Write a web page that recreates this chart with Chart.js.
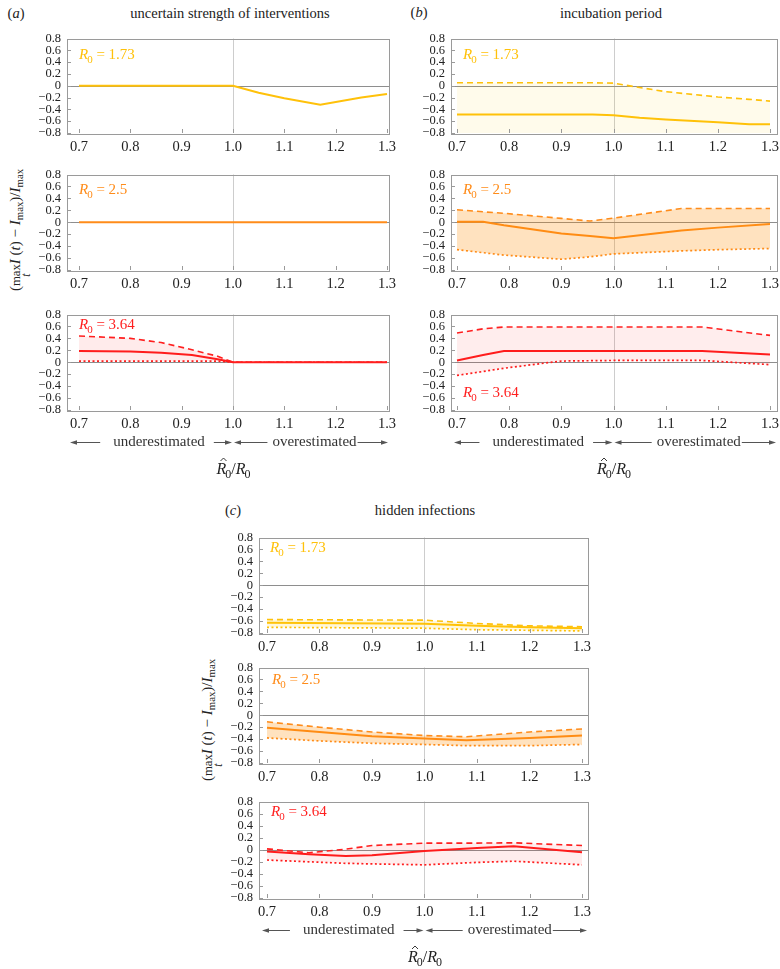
<!DOCTYPE html>
<html>
<head>
<meta charset="utf-8">
<script src="https://cdn.jsdelivr.net/npm/chart.js@4.4.0/dist/chart.umd.min.js"></script>
<style>
  body { margin: 0; background: #fff; width: 780px; height: 969px; position: relative; overflow: hidden;
         font-family: "Liberation Serif", "Times New Roman", "DejaVu Serif", serif; color: #222; }
  canvas { position: absolute; }
  .t { position: absolute; font-size: 14.5px; white-space: nowrap; transform: translate(-50%, -50%); }
  .ylab { position: absolute; font-size: 15px; white-space: nowrap; transform: translate(-50%, -50%) rotate(-90deg); }
  .ylab sub { font-size: 0.72em; vertical-align: -0.3em; }
  .mx { display: inline-block; position: relative; font-size: 0.85em; }
  .mx i { position: absolute; left: 50%; top: 0.95em; transform: translateX(-50%); font-size: 0.9em; }
</style>
</head>
<body>

<div class="t" style="left:16px;top:13px">(<i>a</i>)</div>
<div class="t" style="left:230px;top:13px">uncertain strength of interventions</div>
<div class="t" style="left:419px;top:12px">(<i>b</i>)</div>
<div class="t" style="left:611px;top:13px">incubation period</div>
<div class="t" style="left:233px;top:510px">(<i>c</i>)</div>
<div class="t" style="left:425px;top:510px">hidden infections</div>

<div class="ylab" style="left:16px;top:230px">(<span class="mx">max<i>t</i></span><i>I</i> (<i>t</i>) − <i>I</i><sub>max</sub>)/<i>I</i><sub>max</sub></div>
<div class="ylab" style="left:208px;top:720px">(<span class="mx">max<i>t</i></span><i>I</i> (<i>t</i>) − <i>I</i><sub>max</sub>)/<i>I</i><sub>max</sub></div>

<script>
// ===== DATA =====
// axis ticks
const ratioTicks = [0.7, 0.8, 0.9, 1.0, 1.1, 1.2, 1.3];
const effectTicks = [-0.8, -0.6, -0.4, -0.2, 0, 0.2, 0.4, 0.6, 0.8];

// (a) uncertain strength of interventions
const xA1 = [0.7, 1.0, 1.05, 1.1, 1.17, 1.25, 1.3];
const a1Mid = [0, 0, -0.12, -0.21, -0.32, -0.2, -0.14];

const xA2 = [0.7, 1.0, 1.3];
const a2Mid = [0, 0, 0];

const xA3 = [0.7, 0.8, 0.86, 0.92, 0.97, 1.0, 1.3];
const a3Upper = [0.44, 0.40, 0.33, 0.21, 0.10, 0, 0];
const a3Mid = [0.19, 0.18, 0.16, 0.12, 0.05, 0, 0];
const a3Lower = [0.02, 0.02, 0.02, 0.02, 0.02, 0, 0];

// (b) incubation period
const xB1 = [0.7, 0.96, 1.0, 1.05, 1.1, 1.2, 1.26, 1.3];
const b1Upper = [0.05, 0.05, 0.045, -0.03, -0.1, -0.19, -0.23, -0.26];
const b1Mid = [-0.485, -0.485, -0.5, -0.54, -0.57, -0.62, -0.65, -0.65];

const xB2 = [0.7, 0.75, 0.79, 0.9, 0.955, 1.0, 1.13, 1.2, 1.3];
const b2Upper = [0.21, 0.175, 0.15, 0.065, 0.02, 0.07, 0.23, 0.23, 0.23];
const b2Mid = [0.01, 0.01, -0.05, -0.19, -0.23, -0.27, -0.14, -0.09, -0.03];
const b2Lower = [-0.46, -0.51, -0.55, -0.62, -0.58, -0.53, -0.48, -0.46, -0.44];

const xB3 = [0.7, 0.75, 0.79, 0.9, 1.0, 1.17, 1.3];
const b3Upper = [0.49, 0.56, 0.59, 0.59, 0.59, 0.59, 0.45];
const b3Mid = [0.03, 0.12, 0.19, 0.19, 0.19, 0.19, 0.13];
const b3Lower = [-0.22, -0.155, -0.10, 0.02, 0.03, 0.03, -0.04];

// (c) hidden infections
const xC1 = [0.7, 1.0, 1.1, 1.2, 1.3];
const c1Upper = [-0.575, -0.585, -0.64, -0.68, -0.695];
const c1Mid = [-0.63, -0.645, -0.68, -0.705, -0.72];
const c1Lower = [-0.705, -0.72, -0.745, -0.755, -0.765];

const xC2 = [0.7, 0.8, 0.9, 1.0, 1.08, 1.2, 1.3];
const c2Upper = [-0.11, -0.2, -0.28, -0.34, -0.36, -0.28, -0.23];
const c2Mid = [-0.21, -0.28, -0.35, -0.39, -0.42, -0.38, -0.34];
const c2Lower = [-0.38, -0.43, -0.47, -0.49, -0.51, -0.51, -0.49];

const xC3 = [0.7, 0.78, 0.85, 0.9, 1.0, 1.1, 1.17, 1.3];
const c3Upper = [0.015, -0.05, 0.01, 0.07, 0.11, 0.11, 0.115, 0.07];
const c3Mid = [-0.03, -0.075, -0.105, -0.09, -0.02, 0.03, 0.06, -0.04];
const c3Lower = [-0.17, -0.2, -0.225, -0.235, -0.25, -0.21, -0.19, -0.25];

// ===== STYLE =====
const YELLOW = "#ffc10a", ORANGE = "#ff8c1a", RED = "#ff1f1f";
const SERIF = '"Liberation Serif", "Times New Roman", serif';
const YW = 50, PT = 8, PR = 14, XH = 26;

// ===== DECORATION PLUGIN (frame, inner ticks, reference lines, labels) =====
function arrow(ctx, x0, y0, x1) {
  const dir = x1 > x0 ? 1 : -1;
  ctx.beginPath(); ctx.moveTo(x0, y0 + 0.5); ctx.lineTo(x1 - dir * 5, y0 + 0.5); ctx.stroke();
  ctx.beginPath();
  ctx.moveTo(x1, y0 + 0.5);
  ctx.lineTo(x1 - dir * 7, y0 - 1.8);
  ctx.lineTo(x1 - dir * 7, y0 + 2.8);
  ctx.closePath(); ctx.fill();
}

function drawR(ctx, x, yc, size) {
  ctx.font = "italic " + size + "px " + SERIF;
  ctx.fillText("R", x, yc);
  let w = ctx.measureText("R").width;
  ctx.font = Math.round(size * 0.72) + "px " + SERIF;
  ctx.fillText("0", x + w - 1, yc + size * 0.33);
  return w - 1 + ctx.measureText("0").width;
}

const decor = {
  id: "decor",
  beforeDatasetsDraw(chart) {
    const { ctx, chartArea: a, scales: { x, y } } = chart;
    ctx.save();
    ctx.lineWidth = 1;
    ctx.strokeStyle = "#cdcdcd";
    const x1 = Math.round(x.getPixelForValue(1)) + 0.5;
    ctx.beginPath(); ctx.moveTo(x1, a.top); ctx.lineTo(x1, a.bottom); ctx.stroke();
    ctx.strokeStyle = "#8e8e8e";
    const y0 = Math.round(y.getPixelForValue(0)) + 0.5;
    ctx.beginPath(); ctx.moveTo(a.left, y0); ctx.lineTo(a.right, y0); ctx.stroke();
    ctx.restore();
  },
  afterDatasetsDraw(chart, args, opts) {
    const { ctx, chartArea: a, scales: { x, y } } = chart;
    ctx.save();
    // frame
    ctx.strokeStyle = "#9a9a9a";
    ctx.lineWidth = 1;
    ctx.strokeRect(Math.round(a.left) + 0.5, Math.round(a.top) + 0.5,
                   Math.round(a.right - a.left), Math.round(a.bottom - a.top));
    // inner ticks
    ctx.beginPath();
    y.ticks.forEach(t => {
      const py = Math.round(y.getPixelForValue(t.value)) + 0.5;
      ctx.moveTo(a.left, py); ctx.lineTo(a.left + 4, py);
    });
    x.ticks.forEach(t => {
      const px = Math.round(x.getPixelForValue(t.value)) + 0.5;
      ctx.moveTo(px, a.bottom); ctx.lineTo(px, a.bottom - 4);
    });
    ctx.stroke();

    // R0 label
    ctx.fillStyle = opts.color;
    ctx.textBaseline = "middle";
    ctx.textAlign = "left";
    const lx = a.left + opts.dx;
    const ly = opts.bottom ? a.bottom - 17 : a.top + opts.dy;
    const w = drawR(ctx, lx, ly, 15);
    ctx.font = "15px " + SERIF;
    ctx.fillText(" = " + opts.r0, lx + w, ly);

    // under/over-estimated annotation + axis title
    if (opts.annot) {
      const p1 = x.getPixelForValue(1);
      const L = a.left + 3, R = a.right - 1;
      const yA = a.bottom + 32;
      ctx.fillStyle = "#333";
      ctx.strokeStyle = "#555";
      ctx.font = "15px " + SERIF;
      ctx.textAlign = "center";
      const c1 = (x.getPixelForValue(0.7) + p1) / 2 + 3;
      const w1 = ctx.measureText("underestimated").width;
      ctx.fillText("underestimated", c1, yA);
      const c2 = (p1 + R) / 2 + 4;
      const w2 = ctx.measureText("overestimated").width;
      ctx.fillText("overestimated", c2, yA);
      ctx.fillStyle = "#555";
      arrow(ctx, c1 - w1 / 2 - 13, yA, L);
      arrow(ctx, c1 + w1 / 2 + 9, yA, p1 - 1);
      arrow(ctx, c2 - w2 / 2 - 5, yA, p1 + 1);
      arrow(ctx, c2 + w2 / 2 + 1, yA, R);

      // R-hat_0 / R_0
      ctx.fillStyle = "#222";
      ctx.textAlign = "left";
      const yT = a.bottom + 60;
      ctx.font = "16px " + SERIF;
      const slashW = ctx.measureText("/").width;
      ctx.font = "italic 16px " + SERIF;
      const rW = ctx.measureText("R").width - 1 + 11 * 0.5;
      const start = p1 - (2 * rW + slashW) / 2;
      const wa = drawR(ctx, start, yT, 16);
      // hat
      ctx.strokeStyle = "#222";
      ctx.lineWidth = 0.9;
      const hx = start + 7;
      ctx.beginPath(); ctx.moveTo(hx - 3, yT - 9); ctx.lineTo(hx, yT - 12); ctx.lineTo(hx + 3, yT - 9); ctx.stroke();
      ctx.font = "16px " + SERIF;
      ctx.fillText("/", start + wa, yT);
      drawR(ctx, start + wa + slashW, yT, 16);
    }
    ctx.restore();
  }
};

// ===== PANELS =====
function fmtY(v) {
  if (Math.abs(v) < 1e-9) return "0";
  return (v < 0 ? "\u2212" : "") + Math.abs(v).toFixed(1);
}

function makePanel(p) {
  const extra = p.annot ? 74 : 0;
  const cw = YW + p.w + PR, ch = PT + p.h + XH + extra;
  const cv = document.createElement("canvas");
  cv.width = cw; cv.height = ch;
  cv.style.left = (p.left - YW) + "px";
  cv.style.top = (p.top - PT) + "px";
  cv.style.width = cw + "px";
  cv.style.height = ch + "px";
  document.body.appendChild(cv);

  const pts = arr => p.x.map((x, i) => ({ x: x, y: arr[i] }));
  const datasets = [];
  if (p.upper) {
    datasets.push({ data: pts(p.upper), borderColor: p.color, borderWidth: 1.6, borderDash: [6, 4],
      backgroundColor: p.fill, fill: p.lower ? "+1" : "start" });
  }
  if (p.lower) {
    datasets.push({ data: pts(p.lower), borderColor: p.color, borderWidth: 1.7, borderDash: [2, 2.5], fill: false });
  }
  datasets.push({ data: pts(p.mid), borderColor: p.color, borderWidth: 2, fill: false });

  new Chart(cv, {
    type: "line",
    data: { datasets },
    options: {
      responsive: false,
      animation: false,
      events: [],
      elements: { point: { radius: 0 }, line: { tension: 0 } },
      layout: { padding: { top: PT, right: PR, left: 0, bottom: extra } },
      plugins: {
        legend: { display: false },
        tooltip: { enabled: false },
        decor: { color: p.color, r0: p.r0, bottom: p.labelBottom, annot: p.annot, dx: p.dx || 12, dy: p.dy || 17 }
      },
      scales: {
        x: {
          type: "linear", min: p.xMin, max: p.xMax,
          afterBuildTicks: s => { s.ticks = ratioTicks.map(v => ({ value: v })); },
          afterFit: s => { s.height = XH; },
          grid: { display: false, drawTicks: false },
          border: { display: false },
          ticks: { font: { family: SERIF, size: 14.5 }, color: "#222", padding: 5, maxRotation: 0,
                   autoSkip: false, callback: v => v.toFixed(1) }
        },
        y: {
          type: "linear", min: -0.8, max: 0.8,
          afterBuildTicks: s => { s.ticks = effectTicks.map(v => ({ value: v })); },
          afterFit: s => { s.width = YW; },
          grid: { display: false, drawTicks: false },
          border: { display: false },
          ticks: { font: { family: SERIF, size: 12.5 }, color: "#222", padding: 6,
                   autoSkip: false, callback: v => fmtY(v) }
        }
      }
    },
    plugins: [decor]
  });
}

const A = { left: 67, w: 322, xMin: 0.6766, xMax: 1.3039 };
const B = { left: 451, w: 326, xMin: 0.6885, xMax: 1.3134 };
const C = { left: 259, w: 329, xMin: 0.6848, xMax: 1.3114 };

const panels = [
  { ...A, top: 33, h: 100, x: xA1, mid: a1Mid, color: YELLOW, r0: "1.73" },
  { ...A, top: 169, h: 101, x: xA2, mid: a2Mid, color: ORANGE, r0: "2.5", dy: 16 },
  { ...A, top: 309, h: 101, x: xA3, upper: a3Upper, mid: a3Mid, lower: a3Lower, color: RED,
    fill: "rgba(255,0,0,0.08)", r0: "3.64", dy: 11, annot: true },
  { ...B, top: 33, h: 100, x: xB1, upper: b1Upper, mid: b1Mid, color: YELLOW,
    fill: "rgba(255,200,0,0.08)", r0: "1.73" },
  { ...B, top: 169, h: 101, x: xB2, upper: b2Upper, mid: b2Mid, lower: b2Lower, color: ORANGE,
    fill: "rgba(255,140,0,0.25)", r0: "2.5", dy: 16 },
  { ...B, top: 309, h: 101, x: xB3, upper: b3Upper, mid: b3Mid, lower: b3Lower, color: RED,
    fill: "rgba(255,0,0,0.07)", r0: "3.64", labelBottom: true, annot: true },
  { ...C, top: 532, h: 101, x: xC1, upper: c1Upper, mid: c1Mid, lower: c1Lower, color: YELLOW,
    fill: "rgba(255,200,0,0.15)", r0: "1.73", dx: 11, dy: 11 },
  { ...C, top: 662, h: 101, x: xC2, upper: c2Upper, mid: c2Mid, lower: c2Lower, color: ORANGE,
    fill: "rgba(255,140,0,0.25)", r0: "2.5", dx: 13, dy: 13 },
  { ...C, top: 796, h: 102, x: xC3, upper: c3Upper, mid: c3Mid, lower: c3Lower, color: RED,
    fill: "rgba(255,0,0,0.07)", r0: "3.64", dx: 12, dy: 11, annot: true }
];

panels.forEach(makePanel);
</script>
</body>
</html>
